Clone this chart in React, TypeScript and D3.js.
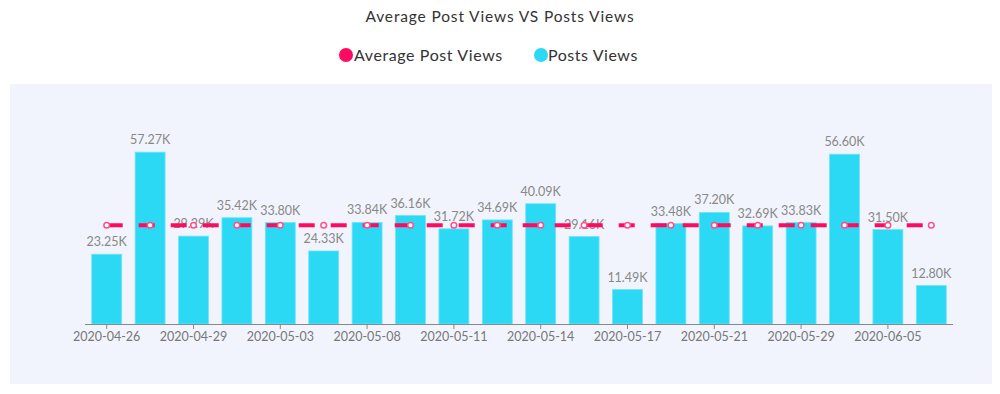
import React from "react";
import * as d3 from "d3";

const dates = [
  "2020-04-26", "2020-04-27", "2020-04-29", "2020-05-01", "2020-05-03",
  "2020-05-05", "2020-05-08", "2020-05-10", "2020-05-11", "2020-05-12",
  "2020-05-14", "2020-05-16", "2020-05-17", "2020-05-19", "2020-05-21",
  "2020-05-25", "2020-05-29", "2020-06-01", "2020-06-05", "2020-06-08",
];
const postsViews = [
  23.25, 57.27, 29.29, 35.42, 33.8, 24.33, 33.84, 36.16, 31.72, 34.69,
  40.09, 29.16, 11.49, 33.48, 37.2, 32.69, 33.83, 56.6, 31.5, 12.8,
];
const averageViews = [
  32.93, 32.93, 32.93, 32.93, 32.93, 32.93, 32.93, 32.93, 32.93, 32.93,
  32.93, 32.93, 32.93, 32.93, 32.93, 32.93, 32.93, 32.93, 32.93, 32.93,
];
const yDomainMax = 60;
const title = "Average Post Views VS Posts Views";
const seriesNames = ["Average Post Views", "Posts Views"];

const W = 1000;
const H = 394;
const PINK = "#ff0a60";
const CYAN = "#2cd9f5";
const FONT = "Lato, 'Open Sans', sans-serif";

export default function App() {
  const x = d3
    .scaleBand<number>()
    .domain(d3.range(dates.length))
    .range([85, 953])
    .paddingInner(0.31)
    .paddingOuter(0.155);
  const y = d3.scaleLinear().domain([0, yDomainMax]).range([324, 144]);
  const cx = (i: number) => (x(i) as number) + x.bandwidth() / 2;

  const line = d3
    .line<number>()
    .x((_, i) => cx(i))
    .y((d) => y(d));

  return (
    <svg
      width={W}
      height={H}
      style={{ position: "absolute", left: 0, top: 0, fontFamily: FONT }}
    >
      <rect x={0} y={0} width={W} height={H} fill="#ffffff" />
      <text x={500} y={22} textAnchor="middle" fontSize={15.5} letterSpacing={0.85} fill="#333">
        {title}
      </text>
      {/* legend */}
      <circle cx={346} cy={55} r={7} fill={PINK} />
      <text x={354} y={61} fontSize={16} letterSpacing={0.6} fill="#333">
        {seriesNames[0]}
      </text>
      <circle cx={541} cy={55} r={7} fill={CYAN} />
      <text x={548} y={61} fontSize={16} letterSpacing={0.55} fill="#333">
        {seriesNames[1]}
      </text>

      <rect x={10} y={84} width={982} height={300} fill="#f1f4fc" />

      {/* bars */}
      {postsViews.map((v, i) => (
        <rect
          key={"b" + i}
          x={x(i)}
          y={y(v)}
          width={x.bandwidth()}
          height={y(0) - y(v)}
          fill={CYAN}
          stroke="#6fe4f8"
          strokeWidth={0.8}
        />
      ))}
      {/* data labels */}
      {postsViews.map((v, i) => (
        <text
          key={"l" + i}
          x={cx(i)}
          y={y(v) - 8}
          textAnchor="middle"
          fontSize={12.5}
          fill="#888"
        >
          {v.toFixed(2) + "K"}
        </text>
      ))}

      {/* axis */}
      <line x1={85} x2={953} y1={324.5} y2={324.5} stroke="#888" strokeWidth={1} />
      {dates.map((d, i) =>
        i % 2 === 0 ? (
          <g key={"t" + i}>
            <line x1={cx(i)} x2={cx(i)} y1={324.5} y2={329} stroke="#888" />
            <text x={cx(i)} y={341} textAnchor="middle" fontSize={12.5} fill="#777">
              {d}
            </text>
          </g>
        ) : null
      )}

      {/* average line */}
      <path
        d={line(averageViews) || ""}
        fill="none"
        stroke={PINK}
        strokeWidth={4}
        strokeDasharray="16 16"
      />
      {averageViews.map((v, i) => (
        <circle
          key={"m" + i}
          cx={cx(i)}
          cy={y(v)}
          r={2.8}
          fill="#fff"
          stroke="#ff4f8a"
          strokeWidth={1.5}
        />
      ))}
    </svg>
  );
}
